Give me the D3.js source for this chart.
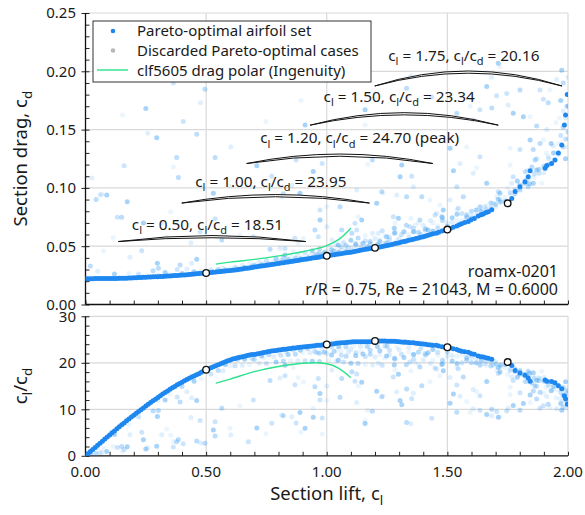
<!DOCTYPE html>
<html>
<head>
<meta charset="utf-8">
<script src="https://cdn.jsdelivr.net/npm/d3@7"></script>
<style>
  body { margin: 0; background: #fff; }
  svg { display: block; }
  text { font-family: "Noto Sans", sans-serif; fill: #1a1a1a; }
</style>
</head>
<body>
<svg id="chart" width="585" height="515"></svg>
<script>
// ---- Pareto-optimal airfoil set (section lift c_l, section drag c_d) ----
const paretoCl = [
  0.00,0.01,0.02,0.03,0.04,0.05,0.06,0.07,0.08,0.09,
  0.10,0.11,0.12,0.13,0.14,0.15,0.16,0.17,0.18,0.19,
  0.20,0.21,0.22,0.23,0.24,0.25,0.26,0.27,0.28,0.29,
  0.30,0.31,0.32,0.33,0.34,0.35,0.36,0.37,0.38,0.39,
  0.40,0.41,0.42,0.43,0.44,0.45,0.46,0.47,0.48,0.49,
  0.50,0.51,0.52,0.53,0.54,0.55,0.56,0.57,0.58,0.59,
  0.60,0.61,0.62,0.63,0.64,0.65,0.66,0.67,0.68,0.69,
  0.70,0.71,0.72,0.73,0.74,0.75,0.76,0.77,0.78,0.79,
  0.80,0.81,0.82,0.83,0.84,0.85,0.86,0.87,0.88,0.89,
  0.90,0.91,0.92,0.93,0.94,0.95,0.96,0.97,0.98,0.99,
  1.00,1.01,1.02,1.03,1.04,1.05,1.06,1.07,1.08,1.09,
  1.10,1.11,1.12,1.13,1.14,1.15,1.16,1.17,1.18,1.19,
  1.20,1.21,1.22,1.23,1.24,1.25,1.26,1.27,1.28,1.29,
  1.30,1.31,1.32,1.33,1.34,1.35,1.36,1.37,1.38,1.39,
  1.40,1.41,1.42,1.43,1.44,
  1.454,1.464,1.478,1.490,1.512,1.524,1.539,1.549,1.559,1.572,
  1.587,1.598,1.612,1.628,1.640,1.649,1.660,1.670,1.684,1.767,
  1.781,1.801,1.822,1.835,1.843,1.905,1.912,1.932,1.946,1.960,
  1.974,1.985,1.990,1.997
];
const paretoCd = [
  0.0221,0.0221,0.0221,0.0221,0.0222,0.0222,0.0222,0.0222,0.0223,0.0223,
  0.0223,0.0223,0.0224,0.0224,0.0225,0.0225,0.0226,0.0226,0.0227,0.0228,
  0.0229,0.0230,0.0231,0.0232,0.0233,0.0234,0.0235,0.0236,0.0237,0.0238,
  0.0239,0.0240,0.0241,0.0242,0.0244,0.0245,0.0246,0.0248,0.0249,0.0251,
  0.0253,0.0254,0.0256,0.0258,0.0260,0.0262,0.0264,0.0266,0.0267,0.0268,
  0.0270,0.0273,0.0275,0.0277,0.0279,0.0281,0.0283,0.0285,0.0287,0.0289,
  0.0291,0.0293,0.0296,0.0299,0.0302,0.0305,0.0308,0.0311,0.0314,0.0317,
  0.0321,0.0324,0.0327,0.0330,0.0333,0.0336,0.0339,0.0342,0.0345,0.0349,
  0.0352,0.0355,0.0358,0.0362,0.0365,0.0368,0.0371,0.0375,0.0378,0.0381,
  0.0385,0.0388,0.0391,0.0395,0.0398,0.0401,0.0404,0.0408,0.0411,0.0414,
  0.0418,0.0421,0.0424,0.0427,0.0430,0.0433,0.0436,0.0440,0.0443,0.0446,
  0.0449,0.0453,0.0457,0.0461,0.0465,0.0469,0.0473,0.0477,0.0481,0.0484,
  0.0486,0.0490,0.0494,0.0498,0.0502,0.0507,0.0511,0.0515,0.0520,0.0525,
  0.0530,0.0535,0.0540,0.0545,0.0550,0.0555,0.0560,0.0566,0.0571,0.0577,
  0.0582,0.0588,0.0594,0.0600,0.0606,
  0.0612,0.0620,0.0630,0.0638,0.0652,0.0662,0.0673,0.0684,0.0693,0.0703,
  0.0712,0.0727,0.0738,0.0759,0.0770,0.0777,0.0788,0.0796,0.0812,0.0910,
  0.0970,0.1010,0.1053,0.1096,0.1148,0.1168,0.1192,0.1210,0.1240,0.1300,
  0.1368,0.1540,0.1625,0.1800
];

// ---- Discarded Pareto-optimal cases ----
const discardedCl = [
  0.02,0.05,0.12,0.18,0.22,0.28,0.30,0.33,0.35,0.38,
  0.40,0.42,0.45,0.48,0.52,0.55,0.57,0.58,0.60,0.62,
  0.63,0.65,0.66,0.68,0.69,0.70,0.72,0.73,0.74,0.75,
  0.76,0.78,0.79,0.80,0.81,0.82,0.83,0.84,0.85,0.86,
  0.87,0.88,0.89,0.90,0.91,0.92,0.93,0.94,0.95,0.96,
  0.97,0.98,0.99,1.01,1.02,1.03,1.04,1.05,1.06,1.07,
  1.08,1.09,1.10,1.11,1.12,1.13,1.14,1.15,1.16,1.17,
  1.18,1.19,1.21,1.22,1.23,1.25,1.26,1.28,1.29,1.31,
  1.33,1.34,1.36,1.38,1.39,1.41,1.43,1.44,1.46,1.48,
  1.50,1.52,1.54,1.56,1.58,1.60,1.62,1.64,1.66,1.68,
  1.70,1.72,1.74,1.76,1.78,1.80,1.82,1.84,1.86,1.88,
  1.90,1.92,1.94,1.96,1.97,1.98,1.99,2.00,1.95,1.99,
  2.00,1.98,1.99,2.00,1.995,1.98,2.00,1.97,1.965,
  0.95,0.97,1.00,1.02,1.04,1.06,1.08,1.10,1.12,1.14,
  1.16,1.18,1.20,1.22,1.24,1.26,1.28,1.30,1.32,1.34,
  1.36,1.38,1.40,1.42,1.44,1.46,1.48,1.50,1.52,1.54,
  1.56,1.58,1.60,1.62,1.64,1.66,1.68,1.70,1.72,1.74,
  1.76,1.78,1.80,1.82,1.84,1.86,1.88,1.90,1.92,1.94,
  1.96,1.98,2.00,1.93,1.91,1.87,1.85,1.83,1.79,1.75,
  0.364,0.495,0.477,0.250,0.153,0.405,0.461,0.258,0.295,0.364,
  0.160,0.537,0.602,0.710,0.748,0.873,0.385,0.026,0.910,0.893,
  0.981,1.189,1.349,1.159,1.170,1.352,0.044,0.067,0.173,0.353,
  0.132,0.150,0.184,0.298,0.074,0.233,0.565,0.437,0.461,0.640,
  0.696,0.765,0.806,0.827,0.861,0.868,0.302,0.060,0.088,0.336,
  0.475,0.392,0.440,0.530,0.903,0.965,0.951,1.000,0.972,0.882,
  0.827,1.228,1.290,1.297,1.349,1.449,1.394,1.511,1.525,1.621,
  1.545,1.601,1.656,1.711,1.760,1.822,1.863,1.767,1.856,1.366,
  1.407,1.283,1.214,1.145,1.131,1.117,1.062,1.021,1.048,1.000,
  1.241,1.324,1.359,1.477,1.469,1.711,1.835,1.918,1.711,1.718,
  1.746,1.801,1.752,1.663,1.594,1.635,1.539,1.607,1.773,1.843,
  1.884,1.918,1.953,1.974,1.925,1.898,1.870,1.912,1.843,1.898,
  1.801,1.856,1.939,1.511,1.760,1.704,1.684,1.684,1.815,1.580,
  1.635,1.884,1.552,1.311,1.159,1.435,1.331,0.813,0.889,0.944,
  0.972,1.055,1.124,1.207,1.234,1.276,1.331,1.359,1.304,1.428,
  1.539,1.566,1.607,1.663,1.704,1.773,1.801,1.829,1.870,1.891,
  1.124,1.104,1.166,1.248,1.283,1.345,1.386,1.456,1.483,1.539,
  1.580,1.635,1.690,1.718,0.599,0.772,0.820,0.855,0.944,0.981,
  0.537,0.378,0.316,0.240,0.115,0.675
];
const discardedCd = [
  0.0330,0.0285,0.0262,0.0268,0.0262,0.0290,0.0250,0.0275,0.0262,0.0300,
  0.0268,0.0305,0.0281,0.0290,0.0296,0.0300,0.0312,0.0296,0.0310,0.0320,
  0.0304,0.0335,0.0318,0.0346,0.0330,0.0338,0.0362,0.0340,0.0352,0.0378,
  0.0350,0.0366,0.0392,0.0362,0.0375,0.0402,0.0370,0.0386,0.0415,0.0378,
  0.0398,0.0430,0.0392,0.0405,0.0445,0.0400,0.0420,0.0462,0.0412,0.0432,
  0.0478,0.0425,0.0445,0.0495,0.0436,0.0458,0.0510,0.0448,0.0472,0.0530,
  0.0462,0.0488,0.0552,0.0470,0.0505,0.0570,0.0485,0.0525,0.0590,0.0498,
  0.0540,0.0610,0.0515,0.0560,0.0632,0.0530,0.0580,0.0655,0.0552,0.0600,
  0.0680,0.0575,0.0625,0.0700,0.0602,0.0650,0.0720,0.0630,0.0675,0.0745,
  0.0672,0.0705,0.0775,0.0720,0.0745,0.0800,0.0770,0.0800,0.0850,0.0830,
  0.0860,0.0900,0.0885,0.0940,0.0985,0.1025,0.1065,0.1035,0.1090,0.1125,
  0.1185,0.1250,0.1300,0.1380,0.1450,0.1520,0.1600,0.1700,0.1560,0.1420,
  0.1480,0.1660,0.1250,0.1350,0.1700,0.1900,0.1950,0.1750,0.1600,
  0.0425,0.0440,0.0455,0.0470,0.0462,0.0490,0.0505,0.0480,0.0520,0.0510,
  0.0545,0.0520,0.0565,0.0540,0.0590,0.0555,0.0610,0.0570,0.0625,0.0600,
  0.0655,0.0620,0.0680,0.0640,0.0700,0.0655,0.0720,0.0700,0.0745,0.0720,
  0.0780,0.0770,0.0760,0.0810,0.0830,0.0815,0.0870,0.0840,0.0880,0.0920,
  0.0960,0.0950,0.1000,0.1040,0.1080,0.1120,0.1160,0.1130,0.1200,0.1240,
  0.1290,0.1350,0.1420,0.1380,0.1300,0.1250,0.1180,0.1150,0.1060,0.1000,
  0.1900,0.1846,0.1730,0.1680,0.1625,0.1570,0.1460,0.1468,0.1430,0.1180,
  0.1190,0.1260,0.1350,0.1190,0.1570,0.1240,0.1090,0.1085,0.1540,0.1750,
  0.1210,0.1240,0.1960,0.1670,0.1200,0.1100,0.0900,0.0945,0.0882,0.0796,
  0.0748,0.0748,0.0405,0.0353,0.0459,0.0461,0.0553,0.0530,0.0388,0.0596,
  0.0581,0.0473,0.0482,0.0425,0.0453,0.0568,0.0310,0.0939,0.0939,0.0581,
  0.0624,0.0339,0.0353,0.0954,0.0568,0.0580,0.0640,0.0667,0.0725,0.0525,
  0.0480,0.0967,0.0939,0.0739,0.0739,0.0768,0.0925,0.0896,0.1148,0.1170,
  0.0825,0.0739,0.0839,0.0902,0.1196,0.1139,0.1239,0.1040,0.1040,0.0682,
  0.0639,0.0616,0.0610,0.0725,0.0753,0.0696,0.0639,0.0553,0.0510,0.0839,
  0.0525,0.0539,0.0624,0.0753,0.0853,0.0967,0.1010,0.1268,0.2070,0.2040,
  0.1810,0.1840,0.1710,0.1870,0.1700,0.1670,0.1640,0.1585,0.1640,0.1610,
  0.1840,0.1730,0.1930,0.2010,0.1840,0.1760,0.1530,0.1500,0.1410,0.1410,
  0.1330,0.1330,0.1360,0.1340,0.1340,0.1790,0.1685,0.1950,0.1610,0.1350,
  0.1268,0.1380,0.1210,0.1196,0.1540,0.1780,0.1854,0.0925,0.0954,0.0925,
  0.0810,0.0839,0.0982,0.0868,0.0954,0.0753,0.0925,0.1010,0.1096,0.0896,
  0.1010,0.0925,0.1125,0.1040,0.0925,0.1096,0.0982,0.1068,0.1153,0.1040,
  0.0639,0.0610,0.0496,0.0581,0.0696,0.0667,0.0725,0.0782,0.0810,0.0810,
  0.0753,0.0839,0.0868,0.0954,0.1015,0.1100,0.0950,0.1020,0.1140,0.2090,
  0.0735,0.1260,0.0700,0.0700,0.0575,0.2250
];

// ---- clf5605 drag polar (Ingenuity): c_l and c_l/c_d ----
const polarCl = [0.54, 0.60, 0.70, 0.80, 0.90, 0.95, 1.00, 1.05, 1.10];
const polarLD = [15.6, 16.5, 18.1, 19.2, 19.9, 20.0, 19.8, 18.8, 16.8];

// ---- Highlighted design points ----
const designCl = [0.50, 1.00, 1.20, 1.50, 1.75];
const designLD = [18.51, 23.95, 24.70, 23.34, 20.16];
const designNote = ["", "", " (peak)", "", ""];

// ---- Axis ticks ----
const clTicks = [0, 0.5, 1.0, 1.5, 2.0];
const cdTicks = [0, 0.05, 0.10, 0.15, 0.20, 0.25];
const ldTicks = [0, 10, 20, 30];

const caseName = "roamx-0201";
const caseInfo = "r/R = 0.75, Re = 21043, M = 0.6000";

// ---------------------------------------------------------------
const svg = d3.select("#chart");
const darkBlue = "#1e88f0";
const lightBlue = "#3a9cf2";
const green = "#2ae38c";
const grid = "#d9d9d9";

const x = d3.scaleLinear().domain([0, 2]).range([85.5, 568]);
const yTop = d3.scaleLinear().domain([0, 0.25]).range([304.5, 13]);
const yBot = d3.scaleLinear().domain([0, 30]).range([455.8, 316.3]);

// text with c_l / c_d style subscripts
function rich(sel, parts, fs) {
  let down = false;
  parts.forEach(p => {
    const sub = p.startsWith("_");
    const s = sub ? p.slice(1) : p;
    const t = sel.append("tspan").text(s);
    if (sub) {
      t.attr("font-size", fs * 0.72);
      if (!down) { t.attr("dy", fs * 0.28); down = true; }
    } else if (down) {
      t.attr("dy", -fs * 0.28); down = false;
    }
  });
  return sel;
}

function panel(y, yTicksMajor, fmt, name) {
  const [x0, x1] = x.range();
  const [yb, yt] = y.range();
  const g = svg.append("g");

  // gridlines
  g.selectAll(".gx").data(clTicks.slice(1)).join("line")
    .attr("x1", d => x(d)).attr("x2", d => x(d))
    .attr("y1", yt).attr("y2", yb)
    .attr("stroke", grid).attr("stroke-width", 1.2);
  g.selectAll(".gy").data(yTicksMajor.slice(1)).join("line")
    .attr("x1", x0).attr("x2", x1)
    .attr("y1", d => y(d)).attr("y2", d => y(d))
    .attr("stroke", grid).attr("stroke-width", 1.2);

  // minor ticks (inside)
  const minorX = d3.axisBottom(x).ticks(20).tickSize(-4).tickFormat("");
  g.append("g").attr("transform", `translate(0,${yb})`).call(minorX)
    .call(a => a.select(".domain").remove());
  const nMinor = name === "top" ? 25 : 15;
  const minorY = d3.axisLeft(y).ticks(nMinor).tickSize(-4).tickFormat("");
  g.append("g").attr("transform", `translate(${x0},0)`).call(minorY)
    .call(a => a.select(".domain").remove());
  // major y ticks (outside)
  const majorY = d3.axisLeft(y).tickValues(yTicksMajor).tickSize(4).tickFormat("");
  g.append("g").attr("transform", `translate(${x0},0)`).call(majorY)
    .call(a => a.select(".domain").remove());
  g.selectAll(".tick line").attr("stroke", "#222").attr("stroke-width", 1);

  // y labels
  g.selectAll(".yl").data(yTicksMajor).join("text")
    .attr("x", x0 - 9.5).attr("y", d => y(d)).attr("dy", "0.36em")
    .attr("text-anchor", "end").attr("font-size", 15)
    .text(fmt);

  // axes lines
  g.append("line").attr("x1", x0).attr("x2", x1).attr("y1", yb).attr("y2", yb)
    .attr("stroke", "#111").attr("stroke-width", 1.3);
  g.append("line").attr("x1", x0).attr("x2", x0).attr("y1", yt).attr("y2", yb)
    .attr("stroke", "#111").attr("stroke-width", 1.3);

  svg.append("clipPath").attr("id", "clip-" + name)
    .append("rect").attr("x", x0).attr("y", yt).attr("width", x1 - x0).attr("height", yb - yt);
  return svg.append("g").attr("clip-path", `url(#clip-${name})`);
}

const fmt2 = d3.format(".2f");
const topG = panel(yTop, cdTicks, fmt2, "top");
const botG = panel(yBot, ldTicks, d3.format("d"), "bot");

// x tick labels (bottom panel only)
svg.selectAll(".xl").data(clTicks).join("text")
  .attr("x", d => x(d)).attr("y", 477)
  .attr("text-anchor", "middle").attr("font-size", 15)
  .text(fmt2);

const opac = [0.34, 0.16, 0.44, 0.1, 0.26];
const discarded = discardedCl.map((c, i) => ({ cl: c, cd: discardedCd[i], i }));
const pareto = paretoCl.map((c, i) => ({ cl: c, cd: paretoCd[i] }));
const polar = polarCl.map((c, i) => ({ cl: c, cd: c / polarLD[i], ld: polarLD[i] }));
const design = designCl.map((c, i) => ({ cl: c, ld: designLD[i], cd: c / designLD[i], note: designNote[i] }));

function drawPanel(g, yv) {
  g.selectAll(".disc").data(discarded).join("circle")
    .attr("cx", d => x(d.cl)).attr("cy", d => yv(d))
    .attr("r", 2.5).attr("fill", lightBlue).attr("fill-opacity", d => opac[d.i % 5]);
  g.selectAll(".par").data(pareto).join("circle")
    .attr("cx", d => x(d.cl)).attr("cy", d => yv(d))
    .attr("r", 2.5).attr("fill", darkBlue);
  g.append("path").datum(polar)
    .attr("d", d3.line().x(d => x(d.cl)).y(d => yv(d)).curve(d3.curveMonotoneX))
    .attr("fill", "none").attr("stroke", green).attr("stroke-width", 1.4);
  g.selectAll(".des").data(design).join("circle")
    .attr("cx", d => x(d.cl)).attr("cy", d => yv(d))
    .attr("r", 3.3).attr("fill", "#fff").attr("stroke", "#111").attr("stroke-width", 1.3);
}
drawPanel(topG, d => yTop(d.cd));
drawPanel(botG, d => yBot(d.cl / d.cd));

// annotation arcs and labels (top panel)
const arcStartCl = [0.136, 0.399, 0.668, 0.931, 1.199];
const arcEndCl = [0.913, 1.177, 1.440, 1.711, 1.975];
const arcBaseCd = [0.0540, 0.0870, 0.1209, 0.1538, 0.1874];
const arcRise = [6, 8.5, 9.5, 12.5, 15];
const labelCd = [0.0639, 0.1010, 0.1381, 0.1738, 0.2088];
design.forEach((d, i) => {
  const xa = x(arcStartCl[i]), xb = x(arcEndCl[i]), yb = yTop(arcBaseCd[i]);
  const xm = (xa + xb) / 2, h = 2 * arcRise[i], t = 4.4;
  svg.append("path")
    .attr("d", `M${xa},${yb} Q${xm},${yb - h} ${xb},${yb} Q${xm},${yb - h + t} ${xa},${yb} Z`)
    .attr("fill", "#fff").attr("stroke", "#111").attr("stroke-width", 1);
  const t0 = svg.append("text").attr("x", xa + 13.5).attr("y", yTop(labelCd[i])).attr("font-size", 15.3);
  rich(t0, ["c", "_l", ` = ${d.cl.toFixed(2)}, c`, "_l", "/c", "_d", ` = ${d.ld.toFixed(2)}${d.note}`], 15.3);
});

// case description
svg.append("text").attr("x", 558).attr("y", 277.3).attr("text-anchor", "end")
  .attr("font-size", 16).text(caseName);
svg.append("text").attr("x", 558).attr("y", 295).attr("text-anchor", "end")
  .attr("font-size", 16).text(caseInfo);

// axis titles
rich(svg.append("text").attr("transform", "translate(27,158.7) rotate(-90)")
  .attr("text-anchor", "middle").attr("font-size", 18.5), ["Section drag, c", "_d"], 18.5);
rich(svg.append("text").attr("transform", "translate(27,386) rotate(-90)")
  .attr("text-anchor", "middle").attr("font-size", 18.5), ["c", "_l", "/c", "_d"], 18.5);
rich(svg.append("text").attr("x", 326.7).attr("y", 500)
  .attr("text-anchor", "middle").attr("font-size", 18.5), ["Section lift, c", "_l"], 18.5);

// legend
const lg = svg.append("g");
lg.append("rect").attr("x", 93).attr("y", 21).attr("width", 278).attr("height", 61)
  .attr("fill", "#fff").attr("stroke", "#333").attr("stroke-width", 1);
lg.append("circle").attr("cx", 113).attr("cy", 31).attr("r", 2.3).attr("fill", darkBlue);
lg.append("circle").attr("cx", 113).attr("cy", 50.5).attr("r", 2.3).attr("fill", "#b8b8b8");
lg.append("line").attr("x1", 97).attr("x2", 128).attr("y1", 70).attr("y2", 70)
  .attr("stroke", green).attr("stroke-width", 1.4);
const legendText = ["Pareto-optimal airfoil set", "Discarded Pareto-optimal cases", "clf5605 drag polar (Ingenuity)"];
lg.selectAll(".lt").data(legendText).join("text")
  .attr("x", 137).attr("y", (d, i) => 36.3 + i * 19.7).attr("font-size", 15).text(d => d);
</script>
</body>
</html>
